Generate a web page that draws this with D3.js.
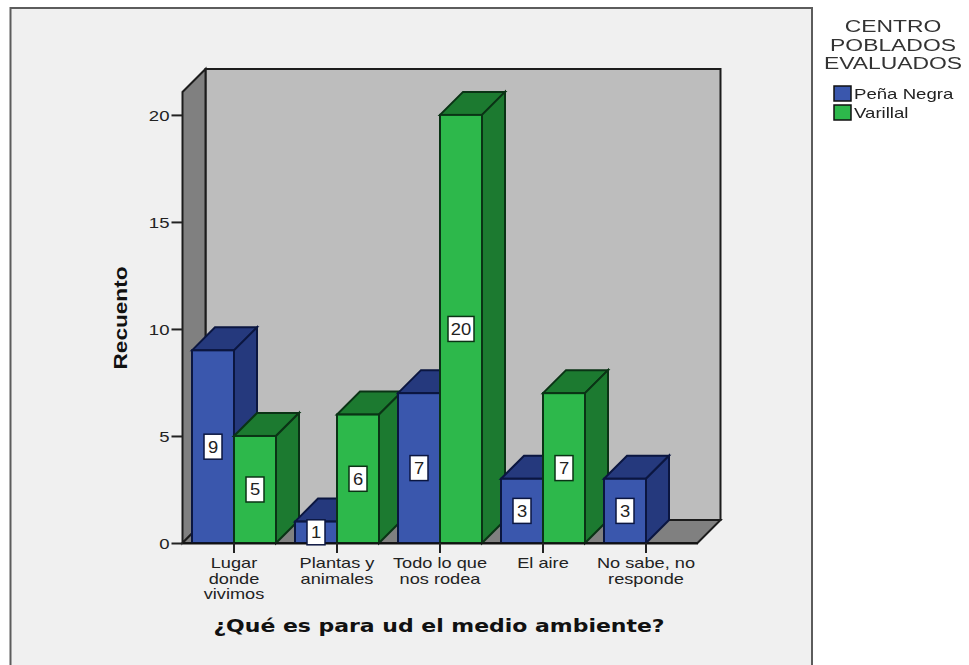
<!DOCTYPE html>
<html><head><meta charset="utf-8">
<script src="https://cdn.jsdelivr.net/npm/d3@7"></script>
<style>html,body{margin:0;background:#fff;overflow:hidden}svg{display:block;filter:blur(.45px)}text{font-family:"Liberation Sans",Arial,sans-serif;fill:#222}</style>
</head><body><svg id="c" width="969" height="665"></svg>
<script>
const categories = ["Lugar donde vivimos","Plantas y animales","Todo lo que nos rodea","El aire","No sabe, no responde"];
const categoryLines = [["Lugar","donde","vivimos"],["Plantas y","animales"],["Todo lo que","nos rodea"],["El aire"],["No sabe, no","responde"]];
const seriesNames = ["Peña Negra","Varillal"];
const penaNegra = [9,1,7,3,3];
const varillal = [5,6,20,7,null];
const yTicks = [0,5,10,15,20];
const legendTitle = ["CENTRO","POBLADOS","EVALUADOS"];
const xTitle = "¿Qué es para ud el medio ambiente?";
const yTitle = "Recuento";
const frontColor = ["#3a57ad","#2db84b"];
const sideColor = ["#25397d","#1c7a30"];
const edgeColor = ["#0b1640","#0a3315"];

const svg = d3.select("#c");
const depth = 23;
const x = d3.scaleBand().domain(categories).range([182.5,697.5]);
const x1 = d3.scaleBand().domain(seriesNames).range([0,84]);
const y = d3.scaleLinear().domain([0,21.07]).range([543,92]);
const L = x.range()[0], R = x.range()[1], B = y(0), T = y.range()[1];
const poly = pts => pts.map(p=>p.join(",")).join(" ");
const wallEdge = "#1c1c1c";

svg.append("rect").attr("x",10.5).attr("y",8).attr("width",801.5).attr("height",670)
  .attr("fill","#f0f0f0").attr("stroke","#5c5c5c").attr("stroke-width",2);

// walls
svg.append("polygon").attr("points",poly([[L+depth,T-depth],[R+depth,T-depth],[R+depth,B-depth],[L+depth,B-depth]]))
  .attr("fill","#bdbdbd").attr("stroke",wallEdge).attr("stroke-width",2);
svg.append("polygon").attr("points",poly([[L,T],[L+depth,T-depth],[L+depth,B-depth],[L,B]]))
  .attr("fill","#808080").attr("stroke",wallEdge).attr("stroke-width",2);
svg.append("polygon").attr("points",poly([[L,B],[L+depth,B-depth],[R+depth,B-depth],[R,B]]))
  .attr("fill","#808080").attr("stroke",wallEdge).attr("stroke-width",2);

// bars
const rows = [];
categories.forEach((c,i)=>{
  [penaNegra[i],varillal[i]].forEach((v,s)=>{ if(v!=null) rows.push({c,s,v}); });
});
const bars = svg.append("g").selectAll("g").data(rows).join("g");
const bx = d => x(d.c)+x.bandwidth()/2-42+x1(seriesNames[d.s]);
const bw = x1.bandwidth();
bars.append("polygon").attr("points",d=>{const a=bx(d),t=y(d.v);
  return poly([[a,t],[a+depth,t-depth],[a+bw+depth,t-depth],[a+bw,t]]);})
  .attr("fill",d=>sideColor[d.s]).attr("stroke",d=>edgeColor[d.s]).attr("stroke-width",2);
bars.append("polygon").attr("points",d=>{const a=bx(d)+bw,t=y(d.v);
  return poly([[a,t],[a+depth,t-depth],[a+depth,B-depth],[a,B]]);})
  .attr("fill",d=>sideColor[d.s]).attr("stroke",d=>edgeColor[d.s]).attr("stroke-width",2);
bars.append("rect").attr("x",bx).attr("y",d=>y(d.v)).attr("width",bw).attr("height",d=>B-y(d.v))
  .attr("fill",d=>frontColor[d.s]).attr("stroke",d=>edgeColor[d.s]).attr("stroke-width",2);

// axes
const yAxis = svg.append("g").attr("transform",`translate(${L},0)`)
  .call(d3.axisLeft(y).tickValues(yTicks).tickSize(11).tickSizeOuter(0).tickFormat(d3.format("d")));
yAxis.select(".domain").remove();
yAxis.selectAll("line").attr("stroke","#222").attr("stroke-width",2);
yAxis.selectAll("text").attr("x",0).attr("dy",null).attr("y",5.5)
  .attr("transform","translate(-13,0) scale(1.28,1)").style("font-size","14.5px").attr("text-anchor","end");

const xAxis = svg.append("g").attr("transform",`translate(0,${B})`)
  .call(d3.axisBottom(x).tickSize(10).tickSizeOuter(0).tickFormat(""));
xAxis.selectAll("line").attr("stroke","#222").attr("stroke-width",2);
xAxis.select(".domain").attr("stroke","#111").attr("stroke-width",2);
xAxis.selectAll(".tick").each(function(c,i){
  const t = d3.select(this).append("text").attr("text-anchor","middle")
    .attr("transform","scale(1.3,1)").style("font-size","14px");
  categoryLines[i].forEach((ln,j)=>t.append("tspan").attr("x",0).attr("y",25+j*15.7).text(ln));
});

// value labels
const lab = svg.append("g").selectAll("g").data(rows).join("g")
  .attr("transform",d=>`translate(${bx(d)+bw/2},${(y(d.v)+B)/2})`);
const boxW = d => String(d.v).length>1 ? 26 : 18;
lab.append("rect").attr("x",d=>-boxW(d)/2).attr("y",-12.5).attr("width",boxW).attr("height",25)
  .attr("fill","#fff").attr("stroke",d=>edgeColor[d.s]).attr("stroke-width",1.5);
lab.append("text").attr("text-anchor","middle").attr("transform","translate(0,6) scale(1.15,1)")
  .style("font-size","16px").text(d=>d.v);

// titles
svg.append("text").attr("transform",`translate(127,318) rotate(-90) scale(1.19,1)`)
  .attr("text-anchor","middle").style("font-size","19px").style("font-weight","bold").style("fill","#111").text(yTitle);
svg.append("text").attr("transform","translate(439,632) scale(1.2,1)").attr("text-anchor","middle")
  .style("font-family","'DejaVu Sans'").style("font-size","18.3px").style("font-weight","bold").style("fill","#111").text(xTitle);

// legend
legendTitle.forEach((t,i)=>svg.append("text")
  .attr("transform",`translate(893,${32+i*18.5}) scale(1.43,1)`)
  .attr("text-anchor","middle").style("font-size","16px").style("fill","#333").text(t));
const leg = svg.append("g").selectAll("g").data(seriesNames).join("g")
  .attr("transform",(d,i)=>`translate(834,${86+i*19})`);
leg.append("rect").attr("width",17).attr("height",15).attr("fill",(d,i)=>frontColor[i]).attr("stroke","#111").attr("stroke-width",1.5);
leg.append("text").attr("transform","translate(20,13) scale(1.33,1)").style("font-size","14px").text(d=>d);
</script></body></html>
